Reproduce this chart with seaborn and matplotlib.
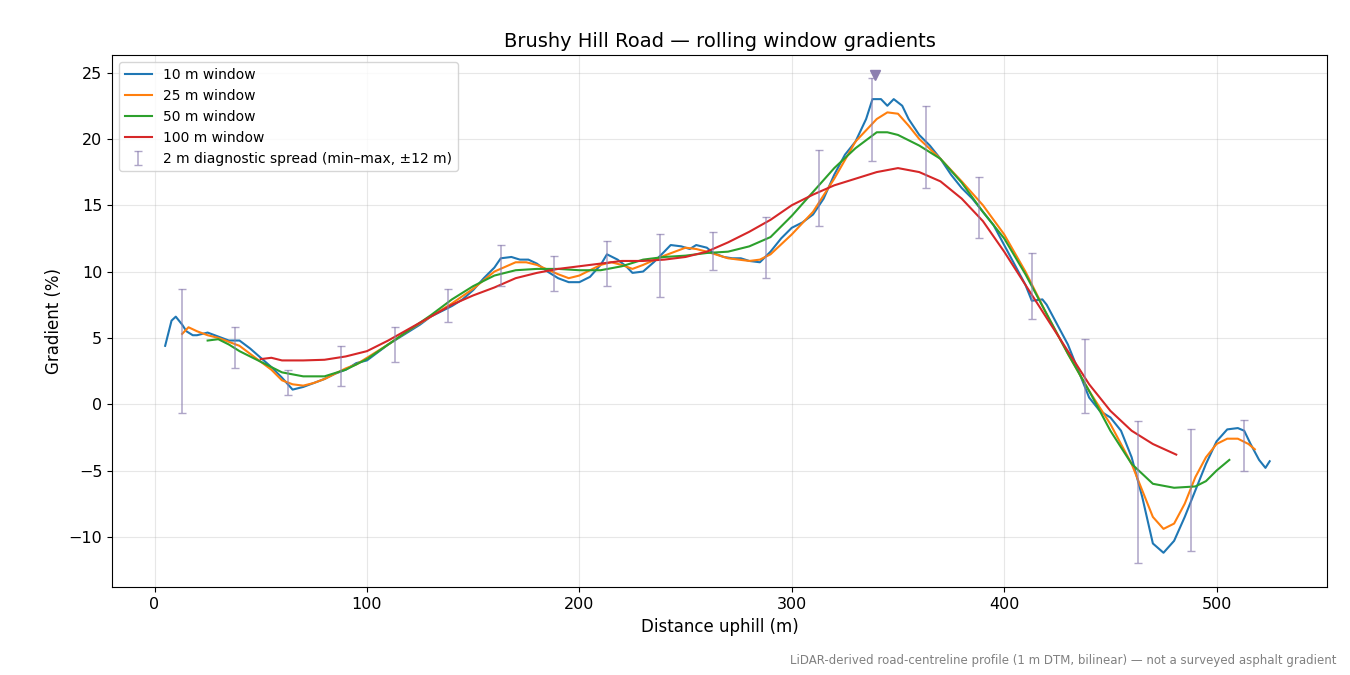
import numpy as np
import pandas as pd
import seaborn as sns
import matplotlib.pyplot as plt

# values
x10 = [5, 8, 10, 13, 15, 18, 20, 25, 30, 35, 40, 45, 50, 55, 60, 65, 70, 75, 80, 85, 90, 95, 100, 105, 110, 115,
       120, 125, 130, 135, 140, 145, 150, 155, 160, 163, 168, 172, 176, 180, 185, 190, 195, 200, 205, 210, 213, 218,
       222, 225, 230, 235, 240, 243, 248, 252, 255, 260, 263, 268, 272, 276, 280, 285, 290, 295, 300, 305, 310, 315,
       320, 325, 330, 335, 338, 342, 345, 348, 352, 355, 360, 365, 370, 375, 380, 385, 390, 395, 400, 405, 410, 413,
       418, 420, 425, 430, 435, 440, 445, 450, 455, 460, 465, 470, 475, 480, 485, 490, 495, 500, 505, 510, 513, 516,
       520, 523, 525]
g10 = [4.4, 6.3, 6.6, 6.0, 5.5, 5.2, 5.2, 5.4, 5.1, 4.8, 4.8, 4.2, 3.5, 2.8, 2.0, 1.1, 1.3, 1.6, 1.9, 2.3, 2.6, 3.1,
       3.3, 3.9, 4.5, 5.0, 5.5, 6.0, 6.6, 7.0, 7.4, 7.9, 8.6, 9.5, 10.3, 11.0, 11.1, 10.9, 10.9, 10.6, 10.0, 9.5, 9.2,
       9.2, 9.6, 10.5, 11.3, 10.9, 10.4, 9.9, 10.0, 10.7, 11.5, 12.0, 11.9, 11.7, 12.0, 11.8, 11.4, 11.1, 11.0, 11.0,
       10.8, 10.7, 11.5, 12.5, 13.3, 13.7, 14.3, 15.5, 17.3, 18.8, 19.8, 21.5, 23.0, 23.0, 22.5, 23.0, 22.5, 21.5,
       20.3, 19.5, 18.5, 17.3, 16.3, 15.5, 14.5, 13.5, 12.0, 10.5, 9.0, 7.8, 7.9, 7.5, 6.0, 4.5, 2.5, 0.5, -0.5, -1.0,
       -2.0, -4.0, -7.0, -10.5, -11.2, -10.3, -8.5, -6.5, -4.5, -2.8, -1.9, -1.8, -2.0, -3.0, -4.2, -4.8, -4.3]

x25 = [13, 16, 20, 25, 30, 35, 40, 45, 50, 55, 60, 65, 70, 75, 80, 85, 90, 95, 100, 110, 120, 130, 140, 150, 160,
       170, 175, 180, 190, 195, 200, 210, 215, 220, 225, 230, 240, 250, 255, 260, 270, 280, 285, 290, 300, 310, 320,
       330, 340, 345, 350, 355, 360, 370, 380, 390, 400, 410, 420, 430, 440, 450, 460, 465, 470, 475, 480, 485, 490,
       495, 500, 505, 510, 515, 518]
g25 = [5.3, 5.8, 5.5, 5.2, 5.0, 4.7, 4.4, 3.8, 3.2, 2.6, 1.8, 1.5, 1.4, 1.6, 1.9, 2.3, 2.7, 3.0, 3.5, 4.5, 5.6, 6.6,
       7.6, 8.7, 10.0, 10.7, 10.7, 10.5, 9.8, 9.5, 9.7, 10.5, 10.7, 10.5, 10.2, 10.5, 11.2, 11.8, 11.7, 11.5, 11.0,
       10.8, 10.9, 11.3, 12.8, 14.5, 17.0, 19.8, 21.5, 22.0, 21.9, 21.0, 20.0, 18.5, 16.8, 15.0, 12.8, 10.0, 6.8, 3.8,
       1.0, -1.5, -4.5, -6.5, -8.5, -9.4, -9.0, -7.5, -5.5, -4.0, -3.0, -2.6, -2.6, -3.0, -3.4]

x50 = [25, 30, 35, 40, 50, 60, 70, 80, 90, 100, 110, 120, 130, 140, 150, 160, 170, 180, 190, 200, 210, 220, 230,
       240, 250, 260, 270, 280, 290, 300, 310, 320, 330, 340, 345, 350, 360, 370, 380, 390, 400, 410, 420, 430, 440,
       450, 460, 470, 480, 490, 495, 500, 506]
g50 = [4.8, 4.9, 4.5, 4.0, 3.2, 2.4, 2.1, 2.1, 2.6, 3.4, 4.5, 5.6, 6.7, 7.9, 8.9, 9.7, 10.1, 10.2, 10.2, 10.1, 10.1,
       10.4, 10.9, 11.1, 11.2, 11.4, 11.5, 11.9, 12.6, 14.2, 16.0, 17.8, 19.3, 20.5, 20.5, 20.3, 19.5, 18.5, 16.7,
       14.5, 12.5, 9.8, 6.8, 3.8, 1.0, -2.0, -4.5, -6.0, -6.3, -6.2, -5.8, -5.0, -4.2]

x100 = [50, 55, 60, 70, 80, 90, 100, 110, 120, 130, 140, 150, 160, 170, 180, 190, 200, 210, 220, 230, 240, 250, 260,
        270, 280, 290, 300, 310, 320, 330, 340, 350, 360, 370, 380, 390, 400, 410, 420, 430, 440, 450, 460, 470, 481]
g100 = [3.4, 3.5, 3.3, 3.3, 3.35, 3.6, 4.0, 4.8, 5.7, 6.6, 7.5, 8.2, 8.8, 9.5, 9.9, 10.2, 10.4, 10.6, 10.8, 10.8,
        10.9, 11.1, 11.5, 12.2, 13.0, 13.9, 15.0, 15.8, 16.5, 17.0, 17.5, 17.8, 17.5, 16.8, 15.5, 13.8, 11.5, 9.0, 6.5,
        4.0, 1.5, -0.5, -2.0, -3.0, -3.8]

# 2 m diagnostic spread (min/max within +-12 m)
diag_x = [13, 38, 63, 88, 113, 138, 163, 188, 213, 238, 263, 288, 313, 338, 363, 388, 413, 438, 463, 488, 513]
diag_min = [-0.7, 2.7, 0.7, 1.4, 3.2, 6.2, 8.9, 8.5, 8.9, 8.1, 10.1, 9.5, 13.4, 18.3, 16.3, 12.5, 6.4, -0.7, -12.0,
            -11.1, -5.0]
diag_max = [8.7, 5.8, 2.6, 4.4, 5.8, 8.7, 12.0, 11.2, 12.3, 12.8, 13.0, 14.1, 19.2, 24.6, 22.5, 17.1, 11.4, 4.9, -1.3,
            -1.9, -1.2]
peak_x, peak_y = 339, 24.8

frames = []
for name, xs, ys in [("10 m window", x10, g10), ("25 m window", x25, g25),
                     ("50 m window", x50, g50), ("100 m window", x100, g100)]:
    frames.append(pd.DataFrame({"dist": xs, "grad": ys, "win": name}))
df = pd.concat(frames)

fig, ax = plt.subplots(figsize=(13.5, 6.75), dpi=100)
sns.lineplot(data=df, x="dist", y="grad", hue="win", palette=["#1f77b4", "#ff7f0e", "#2ca02c", "#d62728"],
             lw=1.5, ax=ax, sort=False)

dmin = np.array(diag_min)
dmax = np.array(diag_max)
mid = (dmin + dmax) / 2
ax.errorbar(diag_x, mid, yerr=(dmax - dmin) / 2, fmt="none", ecolor="#8c7fb0", alpha=0.7, capsize=3, lw=1.1,
            label="2 m diagnostic spread (min\u2013max, \u00b112 m)")
ax.plot([peak_x], [peak_y], marker="v", color="#8c7fb0", ms=7, ls="none")

ax.set_xlim(-20, 552)
ax.set_ylim(-13.8, 26.3)
ax.grid(True, alpha=0.3)
ax.set_xlabel("Distance uphill (m)", fontsize=12)
ax.set_ylabel("Gradient (%)", fontsize=12)
ax.set_title("Brushy Hill Road \u2014 rolling window gradients", fontsize=14)
ax.tick_params(labelsize=11.5)
ax.legend(loc="upper left", fontsize=10, title=None)
fig.text(0.99, 0.012, "LiDAR-derived road-centreline profile (1 m DTM, bilinear) \u2014 not a surveyed asphalt gradient",
         ha="right", va="bottom", fontsize=8.5, color="gray")
fig.subplots_adjust(left=0.083, right=0.983, top=0.918, bottom=0.13)
fig.savefig("out.png")
